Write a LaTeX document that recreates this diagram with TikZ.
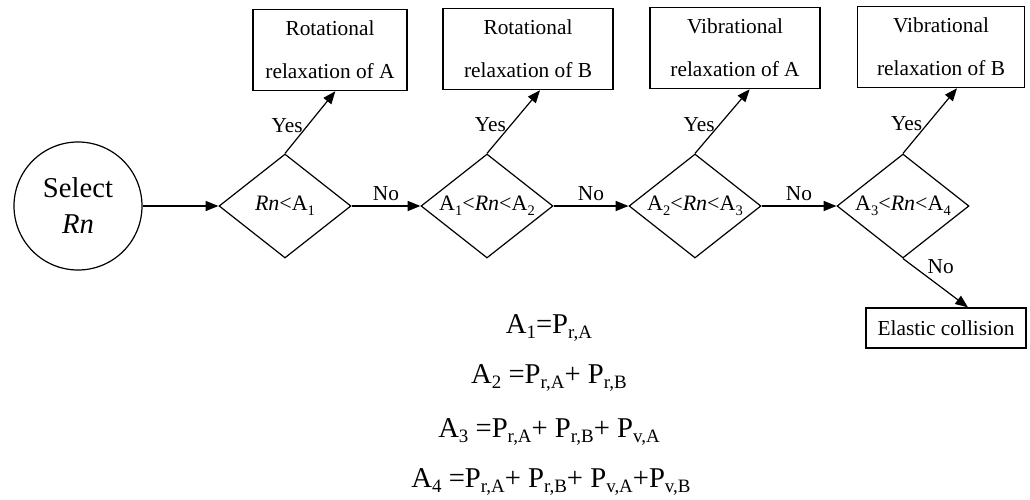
\documentclass[tikz,border=0pt]{standalone}
\usepackage{fontspec}
\setmainfont{Liberation Serif}
\usetikzlibrary{shapes.geometric,arrows.meta}

\newcommand{\subs}[1]{\raisebox{-0.45ex}{\scalebox{0.66}{#1}}}

\begin{document}
\begin{tikzpicture}[x=0.75pt, y=-0.75pt, line width=0.9pt,
    every node/.style={font=\fontsize{16}{20}\selectfont},
    box/.style={draw, rectangle, inner sep=0pt, align=center, font=\fontsize{16}{32}\selectfont},
    test/.style={draw, diamond, aspect=1.4, inner sep=0pt, minimum width=99pt, minimum height=78pt,
                 font=\fontsize{16.5}{20}\selectfont},
    flow/.style={-{Triangle[length=9.5pt,width=7.5pt]}},
    eq/.style={font=\fontsize{21.5}{24}\selectfont}]
    \useasboundingbox (0,0) rectangle (1030,499);

    % Start
    \node[draw, circle, minimum size=96pt, inner sep=0pt, align=center,
          font=\fontsize{21.5}{27}\selectfont] (sel) at (78,206) {Select\\\textit{Rn}};

    % Tests
    \node[test] (d1) at (285,206) {\textit{Rn}<A\subs{1}};
    \node[test] (d2) at (487,206) {A\subs{1}<\textit{Rn}<A\subs{2}};
    \node[test] (d3) at (695,206) {A\subs{2}<\textit{Rn}<A\subs{3}};
    \node[test] (d4) at (903,206) {A\subs{3}<\textit{Rn}<A\subs{4}};

    % Outcomes
    \node[box, minimum width=115.5pt, minimum height=61pt] (r1) at (330,50) {Rotational\\relaxation of A};
    \node[box, minimum width=127.5pt, minimum height=61pt] (r2) at (528,49) {Rotational\\relaxation of B};
    \node[box, minimum width=127.5pt, minimum height=61pt] (v1) at (735,48) {Vibrational\\relaxation of A};
    \node[box, minimum width=125pt, minimum height=61pt] (v2) at (941,47) {Vibrational\\relaxation of B};
    \node[box, minimum width=120pt, minimum height=30pt] (ec) at (946,328) {Elastic collision};

    % Arrows
    \draw[flow] (sel) -- (d1);
    \draw[flow] (d1) -- node[above] {No} (d2);
    \draw[flow] (d2) -- node[above] {No} (d3);
    \draw[flow] (d3) -- node[above] {No} (d4);
    \draw[flow] (d1.north) -- node[left, pos=0.45] {Yes} ([xshift=4pt]r1.south);
    \draw[flow] (d2.north) -- node[left, pos=0.45] {Yes} ([xshift=9pt]r2.south);
    \draw[flow] (d3.north) -- node[left, pos=0.45] {Yes} ([xshift=11pt]v1.south);
    \draw[flow] (d4.north) -- node[left, pos=0.45] {Yes} ([xshift=12pt]v2.south);
    \draw[flow] (d4.south) -- node[above right, pos=0.35, inner sep=1pt] {No} ([xshift=16.5pt]ec.north);

    % Thresholds
    \node[eq] (e1) at (549,328) {A\subs{1}=P\subs{r,A}};
    \node[eq] (e2) at (549,378) {A\subs{2} =P\subs{r,A}+ P\subs{r,B}};
    \node[eq] (e3) at (549,432) {A\subs{3} =P\subs{r,A}+ P\subs{r,B}+ P\subs{v,A}};
    \node[eq] (e4) at (551,482) {A\subs{4} =P\subs{r,A}+ P\subs{r,B}+ P\subs{v,A}+P\subs{v,B}};
\end{tikzpicture}
\end{document}
